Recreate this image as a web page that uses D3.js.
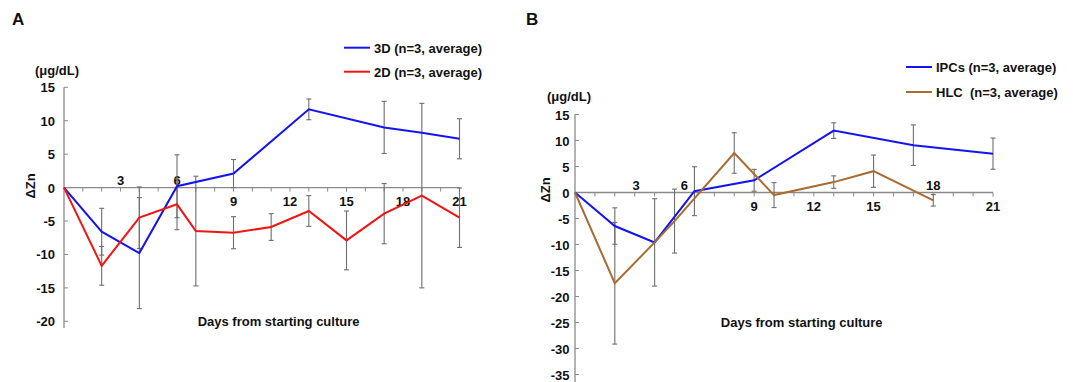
<!DOCTYPE html>
<html><head><meta charset="utf-8">
<script src="https://cdn.jsdelivr.net/npm/d3@7"></script>
<style>body{margin:0;background:#fff}svg{display:block}text{font-family:"Liberation Sans",Arial,sans-serif;font-weight:bold;fill:#111}</style>
</head><body>
<svg id="c" width="1073" height="382"></svg>
<script>
// Panel A
const daysA3D = [0, 2, 4, 6, 9, 13, 17, 19, 21];
const valsA3D = [0, -6.6, -9.8, 0.2, 2.1, 11.7, 9.0, 8.2, 7.3];
const errA3D  = [0, 3.5, 8.3, 4.7, 2.1, 1.55, 3.9, 0, 3.0];
const daysA2D = [0, 2, 4, 6, 7, 9, 11, 13, 15, 17, 19, 21];
const valsA2D = [0, -11.7, -4.5, -2.5, -6.5, -6.75, -5.9, -3.5, -7.9, -3.9, -1.2, -4.5];
const errA2D  = [0, 2.9, 4.6, 3.8, 8.2, 2.4, 2.0, 2.3, 4.4, 4.5, 13.8, 4.45];
// Panel B
const daysBIPC = [0, 2, 4, 6, 9, 13, 17, 21];
const valsBIPC = [0, -6.45, -9.6, 0.25, 2.35, 11.9, 9.1, 7.47];
const errBIPC  = [0, 3.5, 8.4, 4.7, 2.1, 1.5, 3.9, 3.0];
const daysBHLC = [0, 2, 4, 5, 8, 10, 13, 15, 18];
const valsBHLC = [0, -17.45, -9.6, -5.5, 7.6, -0.5, 2.0, 4.1, -1.5];
const errBHLC  = [0, 11.7, 0, 6.15, 3.9, 2.4, 1.2, 3.1, 1.1];

const xTickLabels = [3, 6, 9, 12, 15, 18, 21];
const aboveA = [3, 6];
const aboveB = [3, 6, 18];
const yTicksA = [15, 10, 5, 0, -5, -10, -15, -20];
const yTicksB = [15, 10, 5, 0, -5, -10, -15, -20, -25, -30, -35];
const legendA = ["3D (n=3, average)", "2D (n=3, average)"];
const legendB = ["IPCs (n=3, average)", "HLC\u00a0 (n=3, average)"];
const unitLabel = "(\u03bcg/dL)";
const yTitle = "\u0394Zn";
const xTitle = "Days from starting culture";

const svg = d3.select("#c");
const AXC = "#8a8a8a", ERRC = "#6e6e6e";

function panel(o) {
  const g = svg.append("g");
  const x = d3.scaleLinear().domain([0, 21]).range([o.x0, o.x1]);
  const y = d3.scaleLinear().domain([15, o.ymin]).range([o.yTop, o.yBot]);
  g.append("line").attr("x1", x(0)).attr("x2", x(0)).attr("y1", y(15)).attr("y2", o.yAxisEnd)
    .attr("stroke", AXC).attr("stroke-width", 1.3);
  g.append("line").attr("x1", x(0)).attr("x2", x(21)).attr("y1", y(0)).attr("y2", y(0))
    .attr("stroke", AXC).attr("stroke-width", 1.3);
  g.selectAll(".xt").data(d3.range(1, 22)).join("line")
    .attr("x1", d => x(d)).attr("x2", d => x(d)).attr("y1", y(0)).attr("y2", y(0) + 4)
    .attr("stroke", AXC).attr("stroke-width", 1);
  g.selectAll(".yt").data(o.yTicks).join("line")
    .attr("x1", x(0)).attr("x2", x(0) + 4).attr("y1", d => y(d)).attr("y2", d => y(d))
    .attr("stroke", AXC).attr("stroke-width", 1);
  g.selectAll(".yl").data(o.yTicks).join("text")
    .attr("x", o.yLabX).attr("y", d => y(d) + 5).attr("text-anchor", "end")
    .attr("font-size", 13).text(d => d);
  g.selectAll(".xl").data(xTickLabels).join("text")
    .attr("x", d => x(d) + (o.dx[d] || 0))
    .attr("y", d => o.above.includes(d) ? y(0) - 3 : y(0) + 18)
    .attr("text-anchor", "middle").attr("font-size", 13).text(d => d);
  g.append("text").attr("x", o.unitX).attr("y", o.unitY).attr("font-size", 13).text(unitLabel);
  g.append("text").attr("transform", `translate(${o.titleYX},${o.titleYY}) rotate(-90)`)
    .attr("text-anchor", "middle").attr("font-size", 13).text(yTitle);
  g.append("text").attr("x", o.xTitleX).attr("y", o.xTitleY).attr("text-anchor", "middle")
    .attr("font-size", 13).text(xTitle);
  g.append("text").attr("x", o.letterX).attr("y", 25).attr("font-size", 17).text(o.letter);

  const line = d3.line().x(d => x(d.day)).y(d => y(d.v));
  o.series.forEach(s => {
    const pts = s.days.map((d, i) => ({day: d, v: s.vals[i], e: s.errs[i]}));
    const eb = pts.filter(p => p.e > 0);
    const eg = g.append("g").attr("stroke", ERRC).attr("stroke-width", 1.1);
    eb.forEach(p => {
      eg.append("line").attr("x1", x(p.day)).attr("x2", x(p.day)).attr("y1", y(p.v + p.e)).attr("y2", y(p.v - p.e));
      [p.v + p.e, p.v - p.e].forEach(v => eg.append("line").attr("x1", x(p.day) - 2.5).attr("x2", x(p.day) + 2.5).attr("y1", y(v)).attr("y2", y(v)));
    });
  });
  o.series.forEach(s => {
    const pts = s.days.map((d, i) => ({day: d, v: s.vals[i]}));
    g.append("path").attr("d", line(pts)).attr("fill", "none").attr("stroke", s.color).attr("stroke-width", 2);
  });
  o.series.forEach((s, i) => {
    const ly = o.legY + i * o.legDy;
    g.append("line").attr("x1", o.legX).attr("x2", o.legX + 26).attr("y1", ly).attr("y2", ly)
      .attr("stroke", s.color).attr("stroke-width", 2);
    g.append("text").attr("x", o.legX + 30).attr("y", ly + 5).attr("font-size", 13).text(o.legend[i]);
  });
}

panel({
  letter: "A", letterX: 12,
  x0: 64, x1: 459.5, yTop: 87.3, yBot: 321.3, ymin: -20, yAxisEnd: 328,
  yTicks: yTicksA, yLabX: 55, above: aboveA, dx: {},
  unitX: 35, unitY: 75, titleYX: 35, titleYY: 186,
  xTitleX: 278.6, xTitleY: 326,
  legX: 344, legY: 47.7, legDy: 24, legend: legendA,
  series: [
    {days: daysA3D, vals: valsA3D, errs: errA3D, color: "#1414f0"},
    {days: daysA2D, vals: valsA2D, errs: errA2D, color: "#f01414"}
  ]
});
panel({
  letter: "B", letterX: 526,
  x0: 575, x1: 993, yTop: 114.5, yBot: 374.5, ymin: -35, yAxisEnd: 382,
  yTicks: yTicksB, yLabX: 569.5, above: aboveB, dx: {6: -10, 3: 1.5},
  unitX: 547, unitY: 101, titleYX: 550, titleYY: 190,
  xTitleX: 801.7, xTitleY: 327,
  legX: 906, legY: 67, legDy: 25, legend: legendB,
  series: [
    {days: daysBIPC, vals: valsBIPC, errs: errBIPC, color: "#1414f0"},
    {days: daysBHLC, vals: valsBHLC, errs: errBHLC, color: "#a86c32"}
  ]
});
</script>
</body></html>
